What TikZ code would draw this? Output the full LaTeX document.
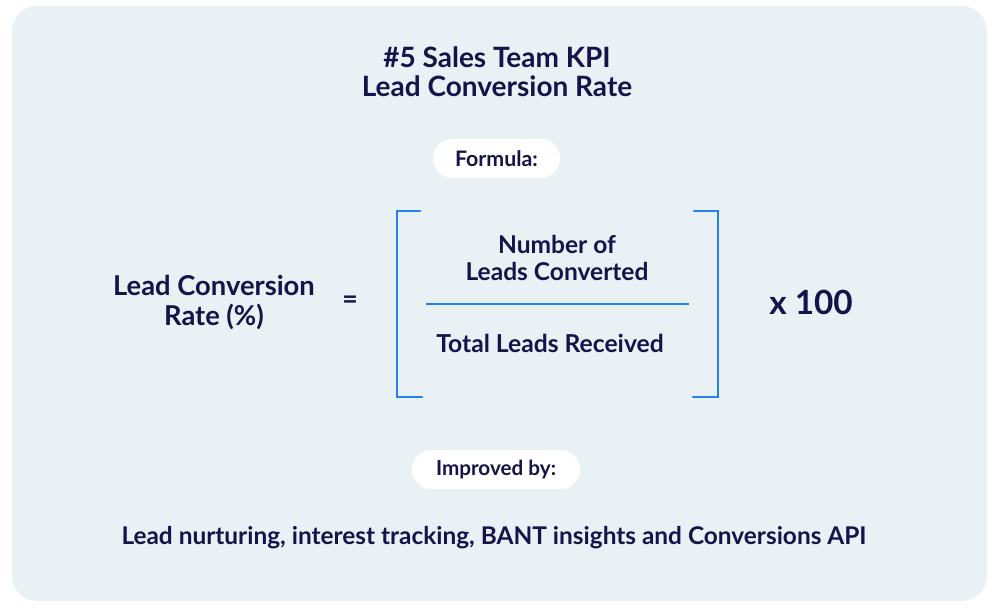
\documentclass[tikz,border=0pt]{standalone}
\usepackage{fontspec}
\setmainfont{Lato}
\definecolor{panel}{HTML}{EAF1F5}
\definecolor{ink}{HTML}{15134A}
\definecolor{brk}{HTML}{2580F0}
\tikzset{
  txt/.style={text=ink, align=center, inner sep=0pt},
  pill/.style={fill=white, rounded corners=19.5*0.75pt, minimum height=39*0.75pt, text=ink, inner sep=0pt},
  bracket/.style={draw=brk, line width=2pt, line cap=round}
}
\begin{document}
\begin{tikzpicture}[x=0.75pt,y=-0.75pt]
\useasboundingbox (0,0) rectangle (1000,610);
\fill[white] (0,0) rectangle (1000,610);
\fill[panel, rounded corners=19pt] (12,6) rectangle (987,601);
\node[txt, font=\fontsize{21}{21.75}\selectfont\bfseries] (title) at (497,72) {\#5 Sales Team KPI\\Lead Conversion Rate};
\node[pill, minimum width=127*0.75pt, font=\fontsize{16}{18}\selectfont\bfseries] (formula) at (496.5,158.5) {Formula:};
\node[txt, font=\fontsize{20.5}{22.5}\selectfont\bfseries] (lhs) at (214,303) {Lead Conversion\\Rate (\%)};
\node[txt, font=\fontsize{20}{22}\selectfont\bfseries] (eq) at (350,302) {=};
\draw[bracket] (420,211) -- (397,211) -- (397,397) -- (422,397);
\draw[bracket] (694,211) -- (718,211) -- (718,397) -- (693,397);
\node[txt, font=\fontsize{18.4}{20.25}\selectfont\bfseries] (num) at (557,257.5) {Number of\\Leads Converted};
\draw[draw=brk, line width=1.5pt] (426,304) -- (689,304);
\node[txt, font=\fontsize{18.5}{20}\selectfont\bfseries] (den) at (550,343) {Total Leads Received};
\node[txt, font=\fontsize{25}{28}\selectfont\bfseries] (x100) at (811,302) {x 100};
\node[pill, minimum width=168*0.75pt, font=\fontsize{15.5}{18}\selectfont\bfseries] (improved) at (496,469.5) {Improved by:};
\node[txt, font=\fontsize{18.3}{20}\selectfont\bfseries] (bottom) at (494,538) {Lead nurturing, interest tracking, BANT insights and Conversions API};
\end{tikzpicture}
\end{document}
